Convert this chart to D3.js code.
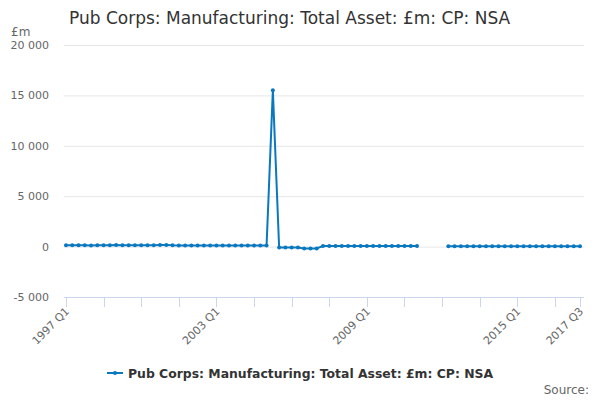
<!DOCTYPE html>
<html>
<head>
  <meta charset="utf-8">
  <title>Pub Corps: Manufacturing: Total Asset</title>
  <script src="https://cdn.jsdelivr.net/npm/d3@7"></script>
  <style>
    body { margin: 0; background: #fff; }
    svg { font-family: "DejaVu Sans", Verdana, sans-serif; display: block; }
  </style>
</head>
<body>
  <svg id="chart"></svg>

  <script>
    // Quarters 1997 Q1 .. 2017 Q3
    var quarters = [];
    for (var y = 1997; y <= 2017; y++) {
      for (var q = 1; q <= 4; q++) {
        if (y === 2017 && q > 3) break;
        quarters.push(y + " Q" + q);
      }
    }

    // £m (null = no data)
    var values = [
      130, 130, 130, 130, 120, 130, 140, 140, 160, 130, 130, 140,
      140, 130, 140, 150, 160, 130, 120, 120, 120, 120, 120, 110,
      110, 110, 100, 100, 100, 100, 100, 110, 120, 15500, -80, -80,
      -80, -90, -180, -180, -180, 60, 60, 60, 60, 60, 60, 60,
      60, 60, 60, 60, 60, 60, 60, 60, 60, null, null, null,
      null, 30, 30, 30, 30, 30, 30, 30, 30, 30, 30, 30,
      30, 30, 30, 30, 30, 30, 30, 30, 30, 30, 30
    ];

    var yTicks = [-5000, 0, 5000, 10000, 15000, 20000];
    var xTickIdx = [0, 6, 12, 18, 24, 30, 36, 42, 48, 54, 60, 66, 72, 78, 82];
    var xLabelIdx = [0, 24, 48, 72, 82];

    var seriesName = "Pub Corps: Manufacturing: Total Asset: £m: CP: NSA";
    var color = "#0a78bf";

    var width = 600, height = 400;
    var svg = d3.select("#chart").attr("width", width).attr("height", height);

    var x = d3.scaleLinear().domain([0, quarters.length - 1]).range([66, 580]);
    var yS = d3.scaleLinear().domain([-5000, 20000]).range([297, 45]);
    var fmt = d3.formatLocale({ decimal: ".", thousands: "\u00a0", grouping: [3], currency: ["", ""], minus: "-" }).format(",");

    // title
    svg.append("text")
      .attr("x", 69).attr("y", 24)
      .attr("fill", "#333").attr("font-size", 17)
      .text("Pub Corps: Manufacturing: Total Asset: £m: CP: NSA");

    svg.append("text")
      .attr("x", 11).attr("y", 36)
      .attr("fill", "#666").attr("font-size", 12)
      .text("£m");

    // grid + y labels
    var gy = svg.append("g");
    gy.selectAll("line")
      .data(yTicks.filter(d => d !== -5000))
      .join("line")
      .attr("x1", 64).attr("x2", 584)
      .attr("y1", d => yS(d) + 0.5).attr("y2", d => yS(d) + 0.5)
      .attr("stroke", "#e6e6e6");
    gy.selectAll("text")
      .data(yTicks)
      .join("text")
      .attr("x", 49).attr("y", d => yS(d) + 4)
      .attr("text-anchor", "end")
      .attr("fill", "#666").attr("font-size", 11)
      .text(d => fmt(d));

    // x axis
    var gx = svg.append("g");
    gx.append("line")
      .attr("x1", 64).attr("x2", 584)
      .attr("y1", 297.5).attr("y2", 297.5)
      .attr("stroke", "#ccd6eb");
    gx.selectAll("line.tick")
      .data(xTickIdx)
      .join("line")
      .attr("class", "tick")
      .attr("x1", d => Math.round(x(d)) + 0.5).attr("x2", d => Math.round(x(d)) + 0.5)
      .attr("y1", 297).attr("y2", 307)
      .attr("stroke", "#ccd6eb");
    gx.selectAll("text")
      .data(xLabelIdx)
      .join("text")
      .attr("transform", d => `translate(${x(d) + 4},${312}) rotate(-45)`)
      .attr("text-anchor", "end")
      .attr("fill", "#666").attr("font-size", 11)
      .text(d => quarters[d]);

    // series
    var pts = values.map((v, i) => ({ i: i, v: v }));
    var line = d3.line()
      .defined(d => d.v !== null)
      .x(d => x(d.i)).y(d => yS(d.v));

    svg.append("path")
      .datum(pts)
      .attr("fill", "none")
      .attr("stroke", color)
      .attr("stroke-width", 2)
      .attr("stroke-linejoin", "round")
      .attr("d", line);

    svg.append("g")
      .selectAll("circle")
      .data(pts.filter(d => d.v !== null))
      .join("circle")
      .attr("cx", d => x(d.i)).attr("cy", d => yS(d.v))
      .attr("r", 2)
      .attr("fill", color);

    // legend
    var lg = svg.append("g").attr("transform", "translate(107,373)");
    lg.append("line").attr("x1", 0).attr("x2", 16).attr("y1", 0).attr("y2", 0)
      .attr("stroke", color).attr("stroke-width", 2);
    lg.append("circle").attr("cx", 8).attr("cy", 0).attr("r", 2).attr("fill", color);
    lg.append("text")
      .attr("x", 21).attr("y", 5)
      .attr("fill", "#333").attr("font-size", 12.4).attr("font-weight", "bold")
      .text(seriesName);

    svg.append("text")
      .attr("x", 589).attr("y", 394)
      .attr("text-anchor", "end")
      .attr("fill", "#666").attr("font-size", 12)
      .text("Source:");
  </script>
</body>
</html>
